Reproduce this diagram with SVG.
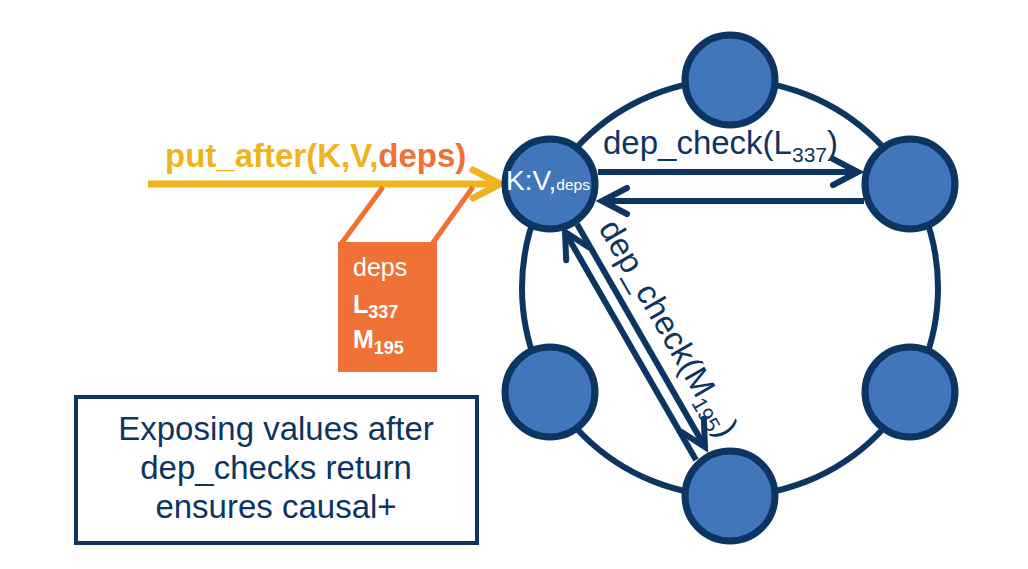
<svg xmlns="http://www.w3.org/2000/svg" width="1028" height="569" viewBox="0 0 1028 569">
<style>
.ring{fill:none;stroke:#0c3561;stroke-width:6}
.node{fill:#4176ba;stroke:#0c3561;stroke-width:7}
.conn{stroke:#0c3561;stroke-width:6;fill:none}
.lbl{font-family:"Liberation Sans",Arial,sans-serif;fill:#0c3561}
.wt{font-family:"Liberation Sans",Arial,sans-serif;fill:#ffffff}
</style>
<defs>
<marker id="ah" markerUnits="userSpaceOnUse" viewBox="-30 -18 34 36" refX="0" refY="0" markerWidth="34" markerHeight="36" orient="auto" overflow="visible">
<path d="M-25,-13 L0,0 L-25,13" fill="none" stroke="#0c3561" stroke-width="6" stroke-linecap="round" stroke-linejoin="miter"/>
</marker>
<marker id="ahy" markerUnits="userSpaceOnUse" viewBox="-30 -18 34 36" refX="0" refY="0" markerWidth="34" markerHeight="36" orient="auto" overflow="visible">
<path d="M-27,-14 L0,0 L-27,14" fill="none" stroke="#efb41d" stroke-width="7" stroke-linecap="round" stroke-linejoin="miter"/>
</marker>
</defs>
<rect width="1028" height="569" fill="#ffffff"/>
<circle class="ring" cx="730" cy="288" r="208"/>
<g id="connectors">
<line x1="148" y1="184" x2="500" y2="184" stroke="#efb41d" stroke-width="7" marker-end="url(#ahy)"/>
<line x1="598" y1="172" x2="858" y2="172" class="conn" marker-end="url(#ah)"/>
<line x1="864" y1="201" x2="602" y2="201" class="conn" marker-end="url(#ah)"/>
<line x1="696" y1="460" x2="565" y2="232" class="conn" marker-end="url(#ah)"/>
<line x1="577" y1="224" x2="705" y2="447" class="conn" marker-end="url(#ah)"/>
</g>
<g id="deps-box">
<line x1="341" y1="244" x2="383" y2="187" stroke="#ef7135" stroke-width="5"/>
<line x1="432" y1="244" x2="473" y2="187" stroke="#ef7135" stroke-width="5"/>
<rect x="338" y="242" width="99" height="130" fill="#ef7135"/>
<text class="wt" x="353" y="276" font-size="25">deps</text>
<text class="wt" x="353" y="313" font-size="25" font-weight="bold">L<tspan font-size="18" dy="5">337</tspan></text>
<text class="wt" x="353" y="348" font-size="25" font-weight="bold">M<tspan font-size="18" dy="6">195</tspan></text>
</g>
<g id="node-top"><circle class="node" cx="730" cy="80" r="45"/></g>
<g id="node-kv"><circle class="node" cx="550" cy="184" r="45"/>
<text class="wt" x="506" y="190" font-size="28">K:V,<tspan font-size="15.5">deps</tspan></text></g>
<g id="node-rt"><circle class="node" cx="910" cy="184" r="45"/></g>
<g id="node-lb"><circle class="node" cx="550" cy="392" r="45"/></g>
<g id="node-rb"><circle class="node" cx="910" cy="392" r="45"/></g>
<g id="node-bottom"><circle class="node" cx="730" cy="496" r="45"/></g>
<g id="labels">
<text x="165" y="167" font-family="Liberation Sans,Arial,sans-serif" font-size="33" font-weight="bold" fill="#efb41d">put_after(K,V,<tspan fill="#ef7135">deps)</tspan></text>
<text class="lbl" x="603" y="154" font-size="33">dep_check(L<tspan font-size="21" dy="8">337</tspan><tspan dy="-8">)</tspan></text>
<text class="lbl" transform="translate(598,228) rotate(60)" x="0" y="0" font-size="33">dep_check(M<tspan font-size="21" dy="7">195</tspan><tspan dy="-7">)</tspan></text>
</g>
<g id="note">
<rect x="76" y="397" width="401" height="146" fill="#ffffff" stroke="#0c3561" stroke-width="4"/>
<text class="lbl" x="276" y="440" font-size="33" text-anchor="middle">Exposing values after</text>
<text class="lbl" x="276" y="479" font-size="33" text-anchor="middle">dep_checks return</text>
<text class="lbl" x="276" y="518" font-size="33" text-anchor="middle">ensures causal+</text>
</g>
</svg>
